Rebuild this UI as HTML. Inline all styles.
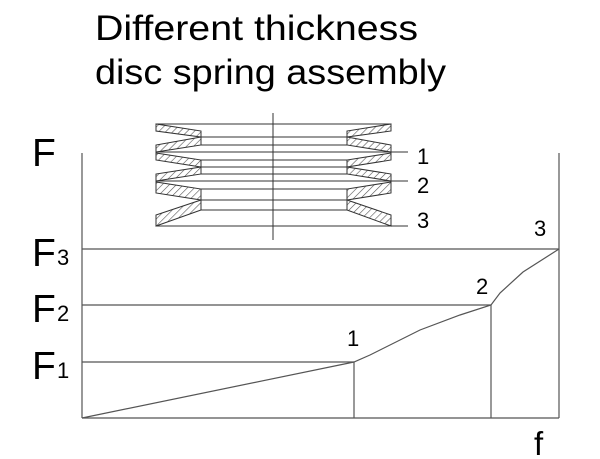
<!DOCTYPE html>
<html><head><style>
html,body{margin:0;padding:0;background:#fff;}
svg{display:block;}
text{font-family:"Liberation Sans",Arial,sans-serif;fill:#000;}
</style></head><body>
<svg width="600" height="459" viewBox="0 0 600 459" xmlns="http://www.w3.org/2000/svg">
<defs>
<pattern id="h" patternUnits="userSpaceOnUse" width="5" height="5" patternTransform="rotate(45)">
<rect width="5" height="5" fill="#fff"/><line x1="0" y1="0" x2="0" y2="5" stroke="#555" stroke-width="1.2"/>
</pattern>
</defs>
<text x="95" y="40" font-size="35" textLength="323" lengthAdjust="spacingAndGlyphs">Different thickness</text>
<text x="95" y="84" font-size="35" textLength="351" lengthAdjust="spacingAndGlyphs">disc spring assembly</text>

<g stroke="#333" stroke-width="1" fill="url(#h)">
<polygon points="156,124 156,131 201,137 201,131"/>
<polygon points="391,124 391,131 347,137 347,131"/>
<polygon points="201,137 201,145 156,152 156,145"/>
<polygon points="347,137 347,145 391,152 391,145"/>
<polygon points="156,153 156,160 201,167 201,160"/>
<polygon points="391,153 391,160 347,167 347,160"/>
<polygon points="201,167 201,174 156,181 156,174"/>
<polygon points="347,167 347,174 391,181 391,174"/>
<polygon points="156,182 156,193 201,200 201,189"/>
<polygon points="391,182 391,193 347,200 347,189"/>
<polygon points="201,200 201,210 156,226 156,215"/>
<polygon points="347,200 347,210 391,226 391,215"/>
</g>
<g stroke="#333" stroke-width="1">
<line x1="156" y1="124" x2="391" y2="124"/>
<line x1="201" y1="137" x2="347" y2="137"/>
<line x1="201" y1="145" x2="347" y2="145"/>
<line x1="156" y1="152" x2="408" y2="152"/>
<line x1="201" y1="160" x2="347" y2="160"/>
<line x1="201" y1="167" x2="347" y2="167"/>
<line x1="201" y1="174" x2="347" y2="174"/>
<line x1="156" y1="181" x2="408" y2="181"/>
<line x1="201" y1="189" x2="347" y2="189"/>
<line x1="201" y1="200" x2="347" y2="200"/>
<line x1="201" y1="210" x2="347" y2="210"/>
<line x1="156" y1="226" x2="408" y2="226"/>
<line x1="273" y1="113" x2="273" y2="240"/>
</g>
<text x="417" y="164" font-size="22">1</text>
<text x="417" y="193" font-size="22">2</text>
<text x="417" y="228" font-size="22">3</text>

<g stroke="#555" stroke-width="1.2" fill="none">
<line x1="82" y1="153" x2="82" y2="418"/>
<line x1="82" y1="418" x2="559" y2="418"/>
<line x1="559" y1="153" x2="559" y2="418"/>
<line x1="82" y1="249" x2="559" y2="249"/>
<line x1="82" y1="305" x2="491" y2="305"/>
<line x1="491" y1="305" x2="491" y2="418"/>
<line x1="82" y1="362" x2="354" y2="362"/>
<line x1="354" y1="362" x2="354" y2="418"/>
<polyline points="82,418 354,362 370,355 420,330 460,315 491,305 500,293 523,272 559,249"/>
</g>
<text x="32" y="166" font-size="39">F</text>
<text x="32" y="266" font-size="39">F</text><text x="57" y="265" font-size="22">3</text>
<text x="32" y="322" font-size="39">F</text><text x="57" y="321" font-size="22">2</text>
<text x="32" y="379" font-size="39">F</text><text x="57" y="378" font-size="22">1</text>
<text x="347" y="346" font-size="22">1</text>
<text x="476" y="294" font-size="22">2</text>
<text x="534" y="236" font-size="22">3</text>
<text x="534" y="455" font-size="33">f</text>
</svg>
</body></html>
